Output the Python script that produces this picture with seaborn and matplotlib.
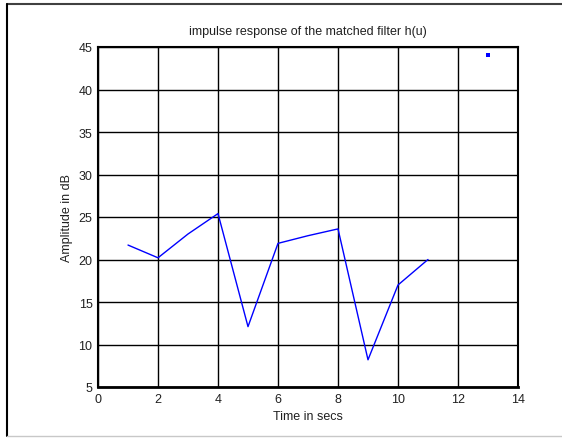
import seaborn as sns
import matplotlib.pyplot as plt
from matplotlib.lines import Line2D
import pandas as pd

# values
time_secs = [1, 2, 3, 4, 5, 6, 7, 8, 9, 10, 11]
amplitude_db = [21.7, 20.2, 23.0, 25.4, 12.1, 21.9, 22.8, 23.6, 8.2, 17.0, 20.0]
dot_time = [13]
dot_amp = [44.1]
xticks = [0, 2, 4, 6, 8, 10, 12, 14]
yticks = [5, 10, 15, 20, 25, 30, 35, 40, 45]

sns.set_style("white")
plt.rcParams['font.family'] = ['Liberation Sans', 'DejaVu Sans']

df = pd.DataFrame({'t': time_secs, 'a': amplitude_db})
dots = pd.DataFrame({'t': dot_time, 'a': dot_amp})

fig = plt.figure(figsize=(5.62, 4.39), dpi=100)
ax = fig.add_axes([98 / 562, 1 - 388 / 439, 420 / 562, 340 / 439])

sns.lineplot(data=df, x='t', y='a', color='#0000ff', linewidth=1, ax=ax)
ax.plot(dots['t'], dots['a'], linestyle='none', marker='s', markersize=2.2,
        color='#0000ff', markeredgewidth=0)

ax.set_xlim(0, 14)
ax.set_ylim(5, 45)
ax.set_xticks(xticks)
ax.set_yticks(yticks)
ax.grid(True, color='black', linewidth=1, linestyle='-')
ax.set_axisbelow(True)
for s in ax.spines.values():
    s.set_color('black')
    s.set_linewidth(1.5)
ax.spines['bottom'].set_linewidth(2)
ax.tick_params(direction='in', length=4, width=1, colors='#202020', labelsize=9, pad=4)
ax.set_xlabel('Time in secs', fontsize=9, labelpad=4, color='#202020')
ax.set_ylabel('Amplitude in dB', fontsize=9, labelpad=4, color='#202020')
ax.set_title('impulse response of the matched filter h(u)', fontsize=9, pad=9, color='#202020')

# window-like border around the figure
fig.add_artist(Line2D([7 / 562, 1], [1 - 5 / 439, 1 - 5 / 439], color='#404040', linewidth=1.5))
fig.add_artist(Line2D([7 / 562, 7 / 562], [1 - 5 / 439, 1 - 437 / 439], color='black', linewidth=1.5))
fig.add_artist(Line2D([7 / 562, 1], [1 - 437 / 439, 1 - 437 / 439], color='#c8c8c8', linewidth=1))

fig.savefig('out.png', dpi=100)
